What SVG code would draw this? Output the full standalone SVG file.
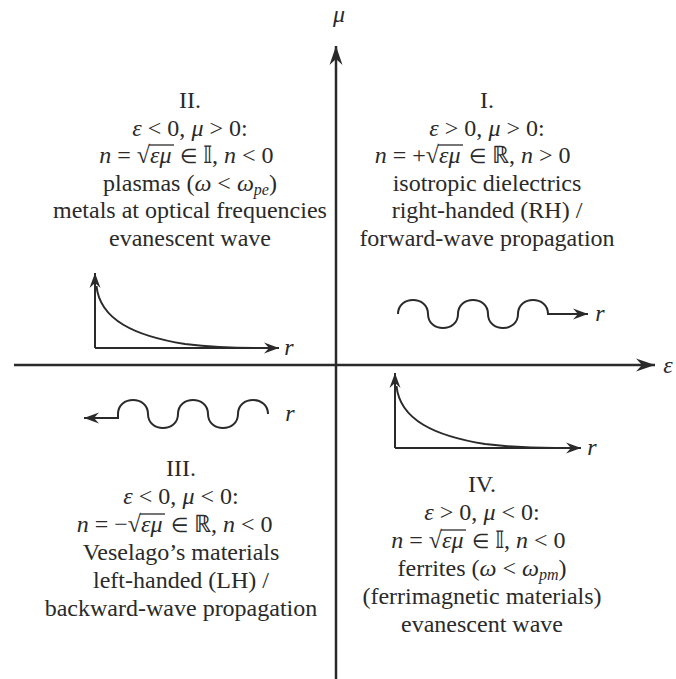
<svg xmlns="http://www.w3.org/2000/svg" width="676" height="679" viewBox="0 0 676 679">
<style>
.t{font-family:"Liberation Serif","Times New Roman",serif;font-size:24px;fill:#2a2a2a;text-anchor:middle}
.s{text-anchor:start}
.e{text-anchor:end}
.i{font-style:italic}
.el{font-size:20px}
.ax{stroke:#2a2a2a;stroke-width:2.5;fill:none}
.ln{stroke:#2a2a2a;stroke-width:2;fill:none}
.vin{stroke:#2a2a2a;stroke-width:1.3}
.sub{font-size:16px;font-style:italic}
</style>
<defs>
<marker id="big" viewBox="-20 -8 22 16" markerWidth="22" markerHeight="16" refX="0" refY="0" orient="auto" markerUnits="userSpaceOnUse">
<path d="M0,0 L-19,-6.5 L-13,0 L-19,6.5 Z" fill="#2a2a2a"/>
</marker>
<marker id="sm" viewBox="-16 -7 18 14" markerWidth="18" markerHeight="14" refX="0" refY="0" orient="auto" markerUnits="userSpaceOnUse">
<path d="M0,0 L-15,-5.5 L-10,0 L-15,5.5 Z" fill="#2a2a2a"/>
</marker>
</defs>
<rect width="676" height="679" fill="#ffffff"/>

<g id="connectors">
<line id="mu-axis" class="ax" x1="336" y1="679" x2="336" y2="46" marker-end="url(#big)"/>
<line id="eps-axis" class="ax" x1="14" y1="365" x2="655" y2="365" marker-end="url(#big)"/>
</g>

<g id="axis-labels">
<text class="t i" x="339" y="22">μ</text>
<text class="t i" x="668" y="373">ε</text>
</g>

<g id="quadrant-I">
<text class="t" x="487" y="108">I.</text>
<text class="t" x="487" y="136"><tspan class="i">ε</tspan> &gt; 0, <tspan class="i">μ</tspan> &gt; 0:</text>
<text class="t e" x="439" y="163"><tspan class="i">n</tspan> = +√</text>
<text class="t s i" x="439" y="163">εμ</text>
<text class="t s" x="469" y="163"><tspan class="el">∈</tspan> ℝ, <tspan class="i">n</tspan> &gt; 0</text>
<line class="vin" x1="438" y1="145" x2="463" y2="145"/>
<text class="t" x="487" y="191">isotropic dielectrics</text>
<text class="t" x="487" y="218">right-handed (RH) /</text>
<text class="t" x="487" y="246">forward-wave propagation</text>
<path class="ln" d="M398,314 C398,295.3 428,295.3 428,314 C428,332.7 458,332.7 458,314 C458,295.3 488,295.3 488,314 C488,332.7 518,332.7 518,314 C518,295.3 548,295.3 548,314 L588,314" marker-end="url(#sm)"/>
<text class="t i" x="600" y="321">r</text>
</g>

<g id="quadrant-II">
<text class="t" x="190" y="108">II.</text>
<text class="t" x="190" y="136"><tspan class="i">ε</tspan> &lt; 0, <tspan class="i">μ</tspan> &gt; 0:</text>
<text class="t e" x="150" y="163"><tspan class="i">n</tspan> = √</text>
<text class="t s i" x="150" y="163">εμ</text>
<text class="t s" x="180" y="163"><tspan class="el">∈</tspan> 𝕀, <tspan class="i">n</tspan> &lt; 0</text>
<line class="vin" x1="149" y1="145" x2="174" y2="145"/>
<text class="t" x="190" y="191">plasmas (<tspan class="i">ω</tspan> &lt; <tspan class="i">ω</tspan><tspan class="sub" dy="4">pe</tspan><tspan dy="-4">)</tspan></text>
<text class="t" x="190" y="218">metals at optical frequencies</text>
<text class="t" x="190" y="246">evanescent wave</text>
<line class="ln" x1="95" y1="348" x2="95" y2="273" marker-end="url(#sm)"/>
<line class="ln" x1="95" y1="348" x2="279" y2="348" marker-end="url(#sm)"/>
<path class="ln" d="M96.5,286 C100,320 135,336 185,344 C210,347 230,348 255,348"/>
<text class="t i" x="289" y="355">r</text>
<path class="ln" d="M268,414 C268,395.3 238,395.3 238,414 C238,432.7 208,432.7 208,414 C208,395.3 178,395.3 178,414 C178,432.7 148,432.7 148,414 C148,395.3 118,395.3 118,414 L118,418 L84,418" marker-end="url(#sm)"/>
<text class="t i" x="290" y="421">r</text>
</g>

<g id="quadrant-III">
<text class="t" x="181" y="476">III.</text>
<text class="t" x="181" y="504"><tspan class="i">ε</tspan> &lt; 0, <tspan class="i">μ</tspan> &lt; 0:</text>
<text class="t e" x="141" y="532"><tspan class="i">n</tspan> = −√</text>
<text class="t s i" x="141" y="532">εμ</text>
<text class="t s" x="171" y="532"><tspan class="el">∈</tspan> ℝ, <tspan class="i">n</tspan> &lt; 0</text>
<line class="vin" x1="140" y1="514" x2="165" y2="514"/>
<text class="t" x="181" y="560">Veselago’s materials</text>
<text class="t" x="181" y="588">left-handed (LH) /</text>
<text class="t" x="181" y="616">backward-wave propagation</text>
</g>

<g id="quadrant-IV">
<line class="ln" x1="395" y1="448" x2="395" y2="373" marker-end="url(#sm)"/>
<line class="ln" x1="395" y1="448" x2="581" y2="448" marker-end="url(#sm)"/>
<path class="ln" d="M396.5,386 C400,420 435,436 485,444 C510,447 530,448 555,448"/>
<text class="t i" x="592" y="455">r</text>
<text class="t" x="482" y="492">IV.</text>
<text class="t" x="482" y="520"><tspan class="i">ε</tspan> &gt; 0, <tspan class="i">μ</tspan> &lt; 0:</text>
<text class="t e" x="442" y="548"><tspan class="i">n</tspan> = √</text>
<text class="t s i" x="442" y="548">εμ</text>
<text class="t s" x="472" y="548"><tspan class="el">∈</tspan> 𝕀, <tspan class="i">n</tspan> &lt; 0</text>
<line class="vin" x1="441" y1="530" x2="466" y2="530"/>
<text class="t" x="482" y="576">ferrites (<tspan class="i">ω</tspan> &lt; <tspan class="i">ω</tspan><tspan class="sub" dy="4">pm</tspan><tspan dy="-4">)</tspan></text>
<text class="t" x="482" y="604">(ferrimagnetic materials)</text>
<text class="t" x="482" y="632">evanescent wave</text>
</g>
</svg>
